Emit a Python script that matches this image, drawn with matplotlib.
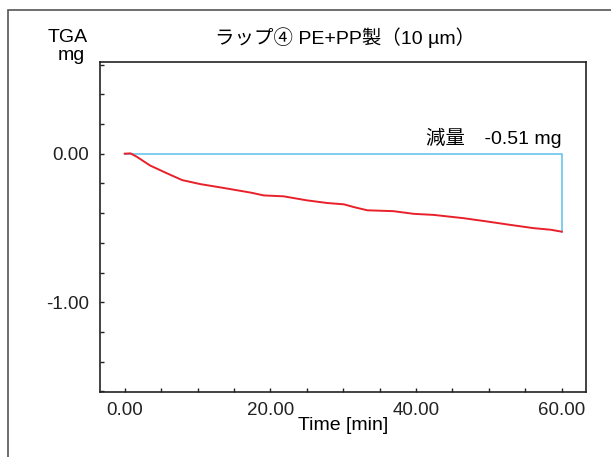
import matplotlib
matplotlib.use("Agg")
import matplotlib.pyplot as plt
from matplotlib.ticker import MultipleLocator, FormatStrFormatter
from matplotlib.patches import Rectangle

plt.rcParams['font.family'] = ['Liberation Sans', 'Noto Sans CJK JP', 'DejaVu Sans']

# TGA curve (time in min, mass change in mg)
time_min = [0.0, 0.8, 1.7, 3.5, 5.8, 7.9, 10.4, 13.5, 17.3, 19.1, 21.8, 25.0,
            27.8, 30.1, 31.5, 33.3, 36.9, 39.7, 42.4, 46.5, 49.7, 52.9, 56.1,
            58.5, 60.0]
mass_mg = [0.000, 0.002, -0.022, -0.080, -0.132, -0.178, -0.205, -0.230,
           -0.262, -0.281, -0.287, -0.314, -0.332, -0.341, -0.360, -0.381,
           -0.387, -0.405, -0.412, -0.434, -0.456, -0.479, -0.501, -0.512,
           -0.525]
loss_label = "減量　-0.51 mg"
title = "ラップ④ PE+PP製（10 µm）"

W, H = 611, 457
fig = plt.figure(figsize=(W / 100, H / 100), dpi=100)

# outer frame
fig.patches.append(Rectangle((8 / W, -0.05), 1.2, 1 - 10 / H + 0.05,
                             transform=fig.transFigure, fill=False,
                             edgecolor='#555555', linewidth=1.2))

left, right, top, bottom = 100, 586, 62, 392
ax = fig.add_axes([left / W, 1 - bottom / H, (right - left) / W, (bottom - top) / H])

ax.plot(time_min, mass_mg, color='#e8202a', linewidth=1.4, zorder=3)
# loss marker: baseline and drop at end
ax.plot([time_min[0], time_min[-1], time_min[-1]],
        [mass_mg[0], mass_mg[0], mass_mg[-1]], color='#5bc0eb', linewidth=1.1, zorder=2)

ax.set_xlim(-3.39, 63.33)
ax.set_ylim(-1.604, 0.617)

ax.xaxis.set_major_locator(MultipleLocator(20))
ax.xaxis.set_minor_locator(MultipleLocator(5))
ax.yaxis.set_major_locator(MultipleLocator(1.0))
ax.yaxis.set_minor_locator(MultipleLocator(0.2))
ax.xaxis.set_major_formatter(FormatStrFormatter('%.2f'))
ax.yaxis.set_major_formatter(FormatStrFormatter('%.2f'))
ax.tick_params(which='both', direction='in', length=3, width=1, colors='#222222',
               labelsize=13.5, top=False, right=False)
ax.tick_params(axis='y', which='major', pad=8)
ax.tick_params(axis='x', which='major', pad=7)
for s in ax.spines.values():
    s.set_linewidth(1.2)
    s.set_color('#222222')

ax.set_xlabel("Time [min]", fontsize=14, labelpad=-1)
fig.text(345 / W, 1 - 38 / H, title, ha='center', va='center', fontsize=14)
fig.text(68 / W, 1 - 38 / H, "TGA", ha='center', va='center', fontsize=14)
fig.text(85 / W, 1 - 55 / H, "mg", ha='right', va='center', fontsize=14)
ax.text(time_min[-1], 0.04, loss_label, ha='right', va='bottom', fontsize=14)

fig.savefig("out.png", dpi=100)
